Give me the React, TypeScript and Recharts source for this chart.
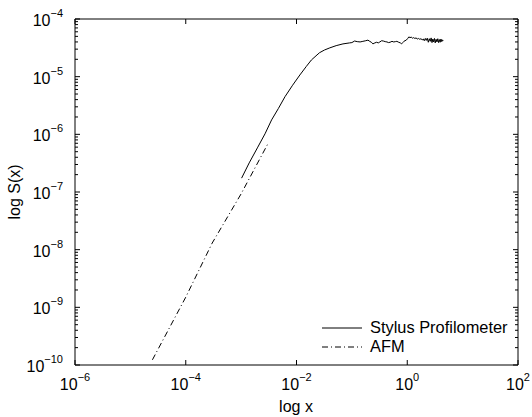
import { LineChart, Line, XAxis, YAxis, Legend, Label } from "recharts";

// stylus profilometer structure function
const stylusX = [
  1.02e-3, 1.4e-3, 2.0e-3, 2.7e-3, 3.55e-3, 4.7e-3, 6.2e-3, 8.5e-3, 1.15e-2, 1.5e-2,
  1.86e-2, 2.6e-2, 3.2e-2, 4.0e-2, 5.2e-2, 6.9e-2, 9.1e-2,
  0.1, 0.112, 0.125, 0.141, 0.158, 0.178, 0.195, 0.21, 0.225, 0.24, 0.26, 0.28, 0.3,
  0.32, 0.345, 0.37, 0.4, 0.43, 0.46, 0.49, 0.53, 0.57, 0.61, 0.65, 0.7, 0.75, 0.79,
  0.83, 0.87, 0.91, 0.96, 1.02, 1.07, 1.12, 1.18, 1.24, 1.3, 1.37, 1.44, 1.52, 1.6,
  1.68, 1.77, 1.86, 1.95,
  2.03, 2.12, 2.2, 2.3, 2.4, 2.5, 2.6, 2.7, 2.8, 2.9, 3.0, 3.1, 3.2, 3.32, 3.44,
  3.56, 3.68, 3.8, 3.93, 4.06, 4.2, 4.33, 4.45,
];
const stylusS = [
  1.74e-7, 3.2e-7, 6.0e-7, 1.02e-6, 1.78e-6, 2.8e-6, 4.5e-6, 7.1e-6, 1.07e-5, 1.5e-5,
  1.95e-5, 2.6e-5, 2.9e-5, 3.16e-5, 3.45e-5, 3.7e-5, 3.85e-5,
  3.9e-5, 4.15e-5, 4.05e-5, 4.0e-5, 4.1e-5, 4.2e-5, 4.3e-5, 4.1e-5, 3.95e-5, 3.7e-5, 3.85e-5, 3.95e-5, 3.85e-5,
  4.0e-5, 4.2e-5, 4.15e-5, 4.05e-5, 4.0e-5, 3.9e-5, 3.95e-5, 4.1e-5, 4.0e-5, 4.05e-5, 4.1e-5, 3.95e-5, 3.85e-5, 3.7e-5,
  3.9e-5, 4.1e-5, 4.2e-5, 4.3e-5, 4.6e-5, 4.9e-5, 4.75e-5, 4.85e-5, 4.65e-5, 4.75e-5, 4.6e-5, 4.7e-5, 4.5e-5, 4.6e-5,
  4.45e-5, 4.55e-5, 4.35e-5, 4.5e-5,
  4.2e-5, 4.6e-5, 4.25e-5, 4.65e-5, 3.95e-5, 4.55e-5, 4.1e-5, 4.7e-5, 3.9e-5, 4.5e-5, 4.0e-5, 4.6e-5, 3.85e-5, 4.45e-5,
  4.0e-5, 4.55e-5, 3.9e-5, 4.4e-5, 3.95e-5, 4.5e-5, 4.05e-5, 4.35e-5, 4.15e-5,
];

// AFM structure function
const afmX = [2.5e-5, 1e-4, 3e-4, 1e-3, 3.1e-3];
const afmS = [1.23e-10, 1.5e-9, 1.3e-8, 9.3e-8, 7.1e-7];

const seriesNames = ["Stylus Profilometer", "AFM"];

const xTicks = [1e-6, 1e-4, 1e-2, 1, 100];
const yMajor = [1e-10, 1e-9, 1e-8, 1e-7, 1e-6, 1e-5, 1e-4];
const yTicks = yMajor.flatMap((m, i) =>
  i === yMajor.length - 1 ? [m] : [1, 2, 3, 4, 5, 6, 7, 8, 9].map((k) => k * m)
);

const stylusData = stylusX.map((x, i) => ({ x, y: stylusS[i] }));
const afmData = afmX.map((x, i) => ({ x, y: afmS[i] }));

const FONT = "'Liberation Sans', Arial, Helvetica, sans-serif";

const expOf = (v: number) => {
  const l = Math.log10(v);
  const e = Math.round(l);
  return { e, major: Math.abs(l - e) < 1e-6 };
};
const sup = (e: number) => (e < 0 ? "\u2212" + Math.abs(e) : String(e));

const BottomTick = ({ x, y, payload }: any) => {
  const { e } = expOf(payload.value);
  return (
    <g>
      <line x1={x} x2={x} y1={y} y2={y - 5} stroke="#000" />
      <text x={x} y={y + 25} textAnchor="middle" fontSize={16} fontFamily={FONT} fill="#000">
        10<tspan dy={-9} fontSize={11}>{sup(e)}</tspan>
      </text>
    </g>
  );
};

const TopTick = ({ x, y }: any) => <line x1={x} x2={x} y1={y} y2={y + 5} stroke="#000" />;

const LeftTick = ({ x, y, payload }: any) => {
  const { e, major } = expOf(payload.value);
  return (
    <g>
      <line x1={x} x2={x + (major ? 5 : 3)} y1={y} y2={y} stroke="#000" />
      {major && (
        <text x={x - 12} y={y + 7} textAnchor="end" fontSize={16} fontFamily={FONT} fill="#000">
          10<tspan dy={-9} fontSize={11}>{sup(e)}</tspan>
        </text>
      )}
    </g>
  );
};

const RightTick = ({ x, y, payload }: any) => {
  const { major } = expOf(payload.value);
  return <line x1={x} x2={x - (major ? 5 : 3)} y1={y} y2={y} stroke="#000" />;
};

const LegendBox = ({ payload }: any) => {
  const items = [...(payload || [])].sort(
    (a: any, b: any) => seriesNames.indexOf(a.value) - seriesNames.indexOf(b.value)
  );
  return (
    <div style={{ fontFamily: FONT, fontSize: 16.4, color: "#000" }}>
      {items.map((p: any) => (
        <div key={p.value} style={{ display: "flex", alignItems: "center", height: 19 }}>
          <svg width={44} height={10} style={{ marginRight: 4 }}>
            <line x1={0} x2={40} y1={5} y2={5} stroke="#000" strokeDasharray={p.payload?.strokeDasharray} />
          </svg>
          <span>{p.value}</span>
        </div>
      ))}
    </div>
  );
};

export default function App() {
  return (
    <div style={{ position: "absolute", left: 0, top: 0, background: "#fff" }}>
      <LineChart width={532} height={417} margin={{ top: 18, right: 13, bottom: 51, left: 74 }}>
        <XAxis
          xAxisId="b"
          type="number"
          dataKey="x"
          scale="log"
          domain={[1e-6, 100]}
          allowDataOverflow
          ticks={xTicks}
          interval={0}
          height={1}
          tickSize={0}
          tickMargin={0}
          tick={<BottomTick />}
          axisLine={{ stroke: "#000" }}
        >
          <Label
            content={() => (
              <text x={296} y={412} textAnchor="middle" fontSize={16} fontFamily={FONT} fill="#000">
                log x
              </text>
            )}
          />
        </XAxis>
        <XAxis
          xAxisId="t"
          orientation="top"
          type="number"
          dataKey="x"
          scale="log"
          domain={[1e-6, 100]}
          allowDataOverflow
          ticks={xTicks}
          interval={0}
          height={1}
          tickSize={0}
          tickMargin={0}
          tick={<TopTick />}
          axisLine={{ stroke: "#000" }}
        />
        <YAxis
          yAxisId="l"
          type="number"
          scale="log"
          domain={[1e-10, 1e-4]}
          allowDataOverflow
          ticks={yTicks}
          interval={0}
          width={1}
          tickSize={0}
          tickMargin={0}
          tick={<LeftTick />}
          axisLine={{ stroke: "#000" }}
        >
          <Label
            content={() => (
              <text
                x={20}
                y={192}
                transform="rotate(-90 20 192)"
                textAnchor="middle"
                fontSize={16}
                fontFamily={FONT}
                fill="#000"
              >
                log S(x)
              </text>
            )}
          />
        </YAxis>
        <YAxis
          yAxisId="r"
          orientation="right"
          type="number"
          scale="log"
          domain={[1e-10, 1e-4]}
          allowDataOverflow
          ticks={yTicks}
          interval={0}
          width={1}
          tickSize={0}
          tickMargin={0}
          tick={<RightTick />}
          axisLine={{ stroke: "#000" }}
        />
        <Line
          xAxisId="b"
          yAxisId="l"
          data={stylusData}
          dataKey="y"
          name="Stylus Profilometer"
          stroke="#000"
          strokeWidth={1}
          dot={false}
          isAnimationActive={false}
        />
        <Line
          xAxisId="b"
          yAxisId="l"
          data={afmData}
          dataKey="y"
          name="AFM"
          stroke="#000"
          strokeWidth={1}
          strokeDasharray="6 3 1 3"
          dot={false}
          isAnimationActive={false}
        />
        <Legend
          layout="vertical"
          verticalAlign="middle"
          align="center"
          wrapperStyle={{ left: 322, top: 318, width: 200 }}
          content={<LegendBox />}
        />
      </LineChart>
    </div>
  );
}
